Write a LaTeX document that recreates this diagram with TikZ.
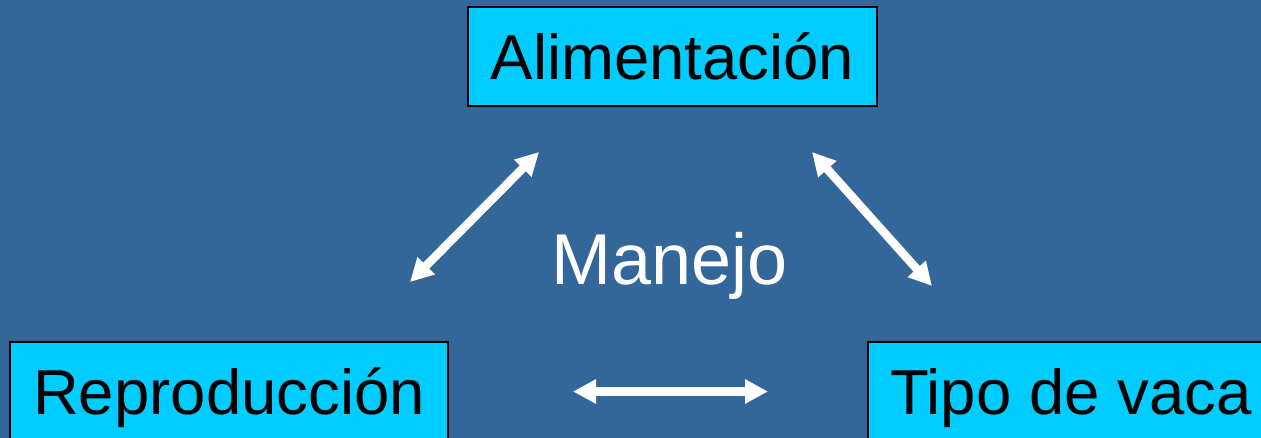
\documentclass[tikz,border=0pt]{standalone}
\usepackage{fontspec}
\setmainfont{Liberation Sans}
\usetikzlibrary{arrows.meta}
\definecolor{bgblue}{HTML}{336699}
\definecolor{boxcyan}{HTML}{00CCFF}
\tikzset{
  topic/.style={draw=black, line width=1.5pt, fill=boxcyan, text=black,
    font=\fontsize{63.5}{70}\selectfont, inner xsep=0pt, inner ysep=0pt,
    text height=46pt, text depth=0pt, minimum height=99pt},
  link/.style={white, line width=8.5pt,
    {Triangle[length=23pt,width=23pt]}-{Triangle[length=23pt,width=23pt]}}
}
\begin{document}
\begin{tikzpicture}[x=1pt,y=-1pt]
\fill[bgblue] (0,0) rectangle (1261,438);
\useasboundingbox (0,0) rectangle (1261,438);
\clip (0,0) rectangle (1261,438);
\node[topic, minimum width=409pt] (alim) at (672.5,56.5) {Alimentación};
\node[topic, minimum width=438pt] (repro) at (229,391.5) {Reproducción};
\node[topic, minimum width=406pt] (tipo) at (1071,391.5) {Tipo de vaca};
\node[text=white, font=\fontsize{72}{80}\selectfont, anchor=base west, inner sep=0pt] (manejo) at (551,285) {Manejo};
\coordinate (la) at (539,152);
\coordinate (lb) at (410,282);
\coordinate (ra) at (812,152);
\coordinate (rb) at (932,286);
\coordinate (ha) at (573,391.5);
\coordinate (hb) at (768,391.5);
\draw[link] (la) -- (lb);
\draw[link] (ra) -- (rb);
\draw[link] (ha) -- (hb);
\end{tikzpicture}
\end{document}
